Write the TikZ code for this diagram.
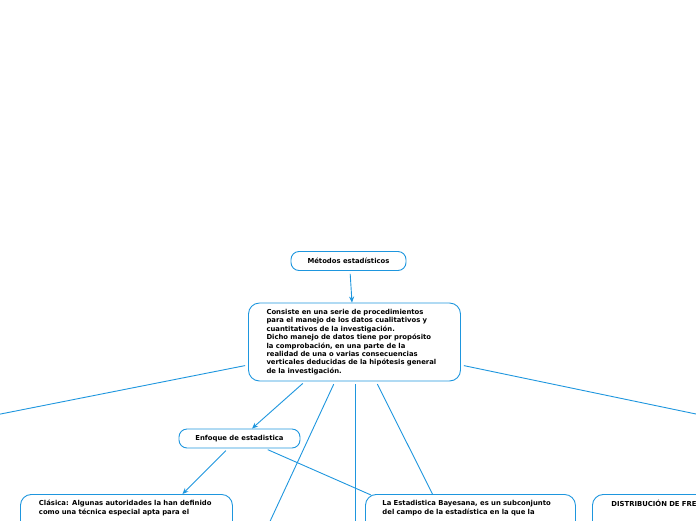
\documentclass[tikz,border=0pt]{standalone}
\usepackage{fontspec}
\setmainfont{DejaVu Sans}
\usetikzlibrary{arrows.meta,positioning}
\definecolor{linkblue}{RGB}{30,150,222}

\begin{document}
\begin{tikzpicture}[x=1pt,y=-1pt,
 box/.style={draw=linkblue,line width=0.9pt,rounded corners=11pt,align=left,
 inner xsep=18pt,inner ysep=5pt,font=\fontsize{6.85}{8.4}\selectfont\bfseries},
 tag/.style={draw=linkblue,line width=0.9pt,rounded corners=8pt,align=center,
 inner sep=0pt,minimum height=19pt,font=\fontsize{6.85}{8.4}\selectfont\bfseries},
 link/.style={draw=linkblue,line width=0.9pt,shorten <=3pt},
 >={Stealth[length=6pt,width=5pt]}]
\useasboundingbox (0,0) rectangle (696,520);
\clip (0,0) rectangle (696,520);
\node[tag,minimum width=115pt] (metodos) at (348.5,261) {Métodos estadísticos};
\node[box,text width=176pt,minimum height=78pt] (consiste) at (354.5,342) {Consiste en una serie de procedimientos\\
 para el manejo de los datos cualitativos y\\
 cuantitativos de la investigación.\\
 Dicho manejo de datos tiene por propósito\\
 la comprobación, en una parte de la\\
 realidad de una o varias consecuencias\\
 verticales deducidas de la hipótesis general\\
 de la investigación.};
\node[tag,minimum width=121pt] (enfoque) at (239.5,438.5) {Enfoque de estadistica};
\node[box,anchor=north west,text width=175pt,text depth=50pt,inner xsep=18.5pt,inner ysep=6pt] (clasica) at (20,494)
 {Clásica: Algunas autoridades la han definido\\
 como una técnica especial apta para el};
\node[box,anchor=north west,text width=176pt,text depth=50pt,inner xsep=17pt,inner ysep=6pt] (bayes) at (365,494)
 {La Estadistica Bayesana, es un subconjunto\\
 del campo de la estadística en la que la};
\node[box,anchor=north west,text width=176pt,text depth=50pt,inner xsep=19pt,inner ysep=6pt] (distrib) at (592,494)
 {DISTRIBUCIÓN DE FRECUENCIAS};
\coordinate (leftend) at (-12,416.5);
\coordinate (rightend) at (708,416.5);
\coordinate (lowend) at (266,530);
\coordinate (midend) at (355,530);
\draw[link,->] ([xshift=1.5pt]metodos.south) -- ([xshift=-2.5pt]consiste.north);
\draw[link] ([yshift=-23pt]consiste.west) -- (leftend);
\draw[link] ([yshift=-23pt]consiste.east) -- (rightend);
\draw[link,->] ([xshift=-49.5pt]consiste.south) -- ([xshift=12.5pt]enfoque.north);
\draw[link] ([xshift=-19.5pt]consiste.south) -- (lowend);
\draw[link] ([xshift=0.5pt]consiste.south) -- (midend);
\draw[link] ([xshift=21.5pt]consiste.south) -- ([xshift=-38pt]bayes.north);
\draw[link,->] ([xshift=-11.5pt]enfoque.south) -- ([xshift=56pt]clasica.north);
\draw[link] ([xshift=25.5pt]enfoque.south) -- ([xshift=6pt,yshift=-1pt]bayes.north west);
\end{tikzpicture}
\end{document}
